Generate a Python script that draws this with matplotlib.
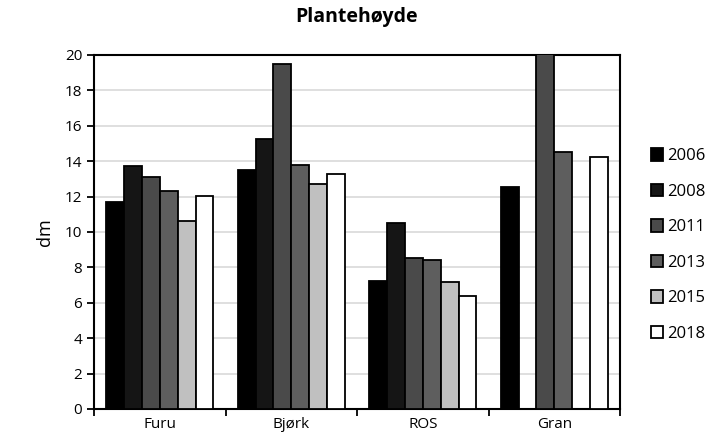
import numpy as np
import matplotlib
matplotlib.use("Agg")
import matplotlib.pyplot as plt

categories = ["Furu", "Bjørk", "ROS", "Gran"]
years = ["2006", "2008", "2011", "2013", "2015", "2018"]
values = {
    "2006": [11.7, 13.5, 7.25, 12.55],
    "2008": [13.7, 15.25, 10.5, np.nan],
    "2011": [13.1, 19.5, 8.55, 22.0],
    "2013": [12.3, 13.8, 8.4, 14.5],
    "2015": [10.6, 12.7, 7.2, np.nan],
    "2018": [12.05, 13.25, 6.4, 14.25],
}
colors = ["#000000", "#151515", "#4a4a4a", "#5e5e5e", "#c0c0c0", "#ffffff"]

plt.rcParams["font.family"] = ["Open Sans", "DejaVu Sans"]

fig = plt.figure(figsize=(7.27, 4.41), dpi=100)
ax = fig.add_axes([0.1293, 0.0726, 0.7237, 0.8027])

x = np.arange(len(categories))
group_w = 0.815
bw = group_w / len(years)
for i, y in enumerate(years):
    ax.bar(x - group_w / 2 + bw * (i + 0.5), values[y], width=bw,
           color=colors[i], edgecolor="black", linewidth=1.3, label=y, zorder=3)

ax.set_ylim(0, 20)
ax.set_xlim(-0.5, len(categories) - 0.5)
ax.set_yticks(range(0, 21, 2))
ax.yaxis.grid(True, color="#d9d9d9", linewidth=1.2, zorder=0)
ax.set_axisbelow(True)

ax.set_xticks(x)
ax.set_xticklabels(categories)
ax.set_xticks(np.arange(-0.5, len(categories), 1.0), minor=True)
ax.tick_params(axis="x", which="major", length=0, pad=6, labelsize=11)
ax.tick_params(axis="x", which="minor", length=5, width=1.3, direction="out")
ax.tick_params(axis="y", length=5, width=1.3, direction="out", labelsize=11)

for s in ax.spines.values():
    s.set_linewidth(1.5)

ax.set_ylabel("dm", fontsize=13, labelpad=8)
fig.suptitle("Plantehøyde", x=0.491, y=0.985, fontsize=14, fontweight="bold")

leg = ax.legend(loc="center left", bbox_to_anchor=(1.03, 0.463), frameon=False,
                fontsize=12, handlelength=0.75, handleheight=0.75,
                handletextpad=0.25, labelspacing=1.17)

fig.savefig("out.png", dpi=100)
